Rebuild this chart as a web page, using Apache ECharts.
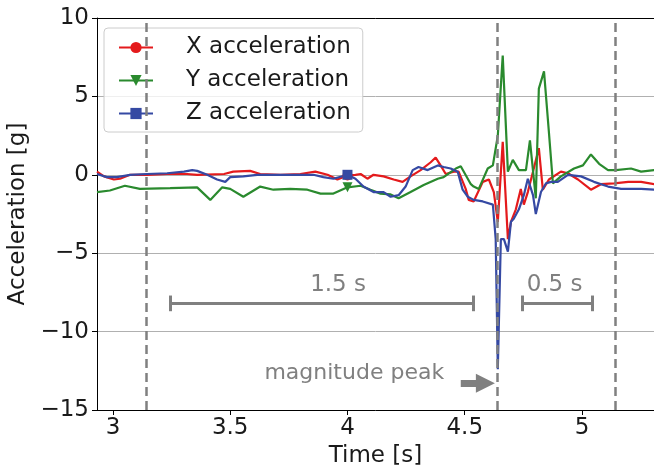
<!DOCTYPE html>
<html>
<head>
<meta charset="utf-8">
<script src="https://cdn.jsdelivr.net/npm/echarts@6/dist/echarts.min.js"></script>
<style>
  html, body { margin: 0; padding: 0; background: #fff; }
  #chart { width: 654px; height: 469px; }
</style>
</head>
<body>
<div id="chart"></div>
<script>
// X acceleration (red)
const xAccT = [2.932, 2.962, 3.004, 3.030, 3.073, 3.145, 3.231, 3.316, 3.359, 3.474, 3.513, 3.585, 3.628, 3.714, 3.799, 3.863, 3.915, 3.957, 4.0, 4.034, 4.056, 4.085, 4.111, 4.154, 4.197, 4.235, 4.269, 4.312, 4.355, 4.376, 4.397, 4.419, 4.453, 4.474, 4.504, 4.517, 4.538, 4.577, 4.603, 4.624, 4.641, 4.662, 4.684, 4.697, 4.718, 4.739, 4.752, 4.769, 4.791, 4.816, 4.833, 4.859, 4.910, 4.940, 4.983, 5.038, 5.081, 5.137, 5.197, 5.252, 5.308];
const xAccV = [0.2, -0.1, -0.3, -0.25, 0.0, 0.0, 0.05, 0.05, 0.0, 0.05, 0.2, 0.25, 0.05, 0.0, 0.05, 0.2, 0.0, -0.3, -0.05, 0.0, 0.05, -0.25, 0.0, -0.1, -0.3, -0.45, -0.1, 0.3, 0.8, 1.1, 0.6, 0.05, 0.2, 0.2, -0.9, -1.6, -1.7, -0.45, -0.3, -1.1, -3.0, 2.1, -4.1, -3.0, -2.2, -0.9, -1.9, -1.1, 0.2, 1.7, -0.95, -0.3, 0.2, 0.1, -0.3, -0.95, -0.6, -0.55, -0.45, -0.45, -0.6];

// Y acceleration (green)
const yAccT = [2.932, 2.987, 3.051, 3.115, 3.244, 3.359, 3.415, 3.466, 3.5, 3.556, 3.628, 3.684, 3.756, 3.829, 3.885, 3.94, 4.0, 4.056, 4.098, 4.141, 4.184, 4.218, 4.269, 4.325, 4.385, 4.410, 4.462, 4.483, 4.491, 4.526, 4.538, 4.560, 4.598, 4.620, 4.641, 4.662, 4.684, 4.705, 4.731, 4.761, 4.778, 4.803, 4.816, 4.838, 4.859, 4.876, 4.910, 4.966, 5.004, 5.038, 5.073, 5.111, 5.145, 5.209, 5.252, 5.308];
const yAccV = [-1.1, -1.0, -0.7, -0.9, -0.85, -0.8, -1.6, -0.8, -0.9, -1.4, -0.75, -0.95, -0.9, -0.95, -1.2, -1.2, -0.8, -0.7, -0.95, -1.2, -1.25, -1.5, -1.1, -0.65, -0.25, -0.15, 0.4, 0.55, 0.5, -0.6, -0.75, -0.9, 0.4, 0.6, 2.5, 7.6, 0.2, 0.95, 0.3, 0.3, 2.2, -1.5, 5.5, 6.6, 2.7, -0.55, -0.1, 0.4, 0.6, 1.3, 0.7, 0.3, 0.3, 0.4, 0.2, 0.3];

// Z acceleration (blue)
const zAccT = [2.932, 2.974, 3.017, 3.073, 3.145, 3.231, 3.303, 3.338, 3.359, 3.402, 3.444, 3.479, 3.5, 3.556, 3.615, 3.744, 3.855, 3.897, 3.94, 4.0, 4.034, 4.068, 4.111, 4.154, 4.184, 4.218, 4.248, 4.278, 4.303, 4.342, 4.385, 4.410, 4.440, 4.470, 4.491, 4.513, 4.538, 4.577, 4.620, 4.632, 4.641, 4.654, 4.667, 4.684, 4.697, 4.709, 4.731, 4.752, 4.769, 4.791, 4.803, 4.825, 4.846, 4.868, 4.897, 4.940, 4.996, 5.051, 5.111, 5.167, 5.252, 5.308];
const zAccV = [0.05, -0.15, -0.15, 0.0, 0.05, 0.1, 0.2, 0.3, 0.25, 0.0, -0.3, -0.45, -0.15, -0.1, 0.0, 0.0, 0.0, -0.15, -0.25, 0.0, -0.25, -0.75, -1.1, -1.1, -1.4, -1.3, -0.75, 0.3, 0.5, 0.3, 0.6, 0.5, 0.4, 0.2, -0.95, -1.4, -1.6, -1.7, -1.9, -4.1, -12.4, -4.1, -4.1, -4.9, -3.0, -2.8, -2.2, -1.3, -0.25, -1.3, -2.5, -1.1, -0.55, -0.45, -0.45, 0.0, -0.1, -0.45, -0.75, -0.9, -0.9, -0.95];

const xTicks = [3, 3.5, 4, 4.5, 5];
const markerTime = 4;

// annotations (data space)
const windowLines = [3.141, 4.641, 5.141];
const span15 = [3.244, 4.538];
const span05 = [4.744, 5.043];
const spanY = -8.2;
const capH = 0.5;
const spanLabels = [['1.5 s', 3.96, -7.0], ['0.5 s', 4.883, -7.0]];
const peakLabel = ['magnitude peak', 4.029, -12.65];
const peakArrow = [[4.483, -13.3], [4.588, -13.3]];

const FONT = 'DejaVu Sans';
const FS = 23;
const GRAY = '#808080';

function zip(t, v) {
  return t.map((x, i) => [x, v[i]]);
}

function markerSize(val) {
  return val[0] === markerTime ? 10 : 0;
}

const chart = echarts.init(document.getElementById('chart'));

const bracketData = [];
[span15, span05].forEach(s => {
  bracketData.push([{ coord: [s[0], spanY] }, { coord: [s[1], spanY] }]);
  bracketData.push([{ coord: [s[0], spanY - capH] }, { coord: [s[0], spanY + capH] }]);
  bracketData.push([{ coord: [s[1], spanY - capH] }, { coord: [s[1], spanY + capH] }]);
});

const textPoints = spanLabels.map(p => ({
  coord: [p[1], p[2]],
  label: { formatter: p[0] }
})).concat([{
  coord: [peakLabel[1], peakLabel[2]],
  label: { formatter: peakLabel[0], fontSize: 22 }
}]);

const option = {
  animation: false,
  textStyle: { fontFamily: FONT },
  grid: { left: 97, right: 0, top: 18, bottom: 59, outerBoundsMode: 'none' },
  legend: {
    data: ['X acceleration', 'Y acceleration', 'Z acceleration'],
    orient: 'vertical',
    left: 104,
    top: 28,
    padding: [8, 12, 7, 14],
    itemGap: 10,
    itemWidth: 34,
    itemHeight: 14,
    backgroundColor: 'rgba(255,255,255,0.8)',
    borderColor: '#cccccc',
    borderWidth: 1,
    borderRadius: 4,
    textStyle: { fontFamily: FONT, fontSize: FS, color: '#1a1a1a', padding: [0, 0, 0, 28] }
  },
  xAxis: [
    {
      type: 'value',
      min: 2.932,
      max: 5.307,
      name: 'Time [s]',
      nameLocation: 'middle',
      nameGap: 34,
      nameTextStyle: { fontFamily: FONT, fontSize: FS, color: '#1a1a1a' },
      axisLine: { show: true, onZero: false, lineStyle: { color: '#000', width: 1 } },
      axisTick: { show: true, length: 5, customValues: xTicks, lineStyle: { color: '#000' } },
      axisLabel: { customValues: xTicks, fontFamily: FONT, fontSize: FS, color: '#1a1a1a', margin: 7 },
      splitLine: { show: false }
    },
    {
      type: 'value',
      position: 'top',
      min: 2.932,
      max: 5.307,
      z: 10,
      axisLine: { show: true, onZero: false, lineStyle: { color: '#000', width: 1 } },
      axisTick: { show: false },
      axisLabel: { show: false },
      splitLine: { show: false }
    }
  ],
  yAxis: {
    type: 'value',
    min: -15,
    max: 10,
    interval: 5,
    name: 'Acceleration [g]',
    nameLocation: 'middle',
    nameGap: 53,
    nameTextStyle: { fontFamily: FONT, fontSize: FS, color: '#1a1a1a' },
    axisLine: { show: true, onZero: false, lineStyle: { color: '#000', width: 1 } },
    axisTick: { show: true, length: 5, lineStyle: { color: '#000' } },
    axisLabel: {
      fontFamily: FONT, fontSize: FS, color: '#1a1a1a', margin: 8,
      formatter: v => String(v).replace('-', '\u2212')
    },
    splitLine: { show: true, lineStyle: { color: '#b0b0b0', width: 1 } }
  },
  series: [
    {
      name: 'X acceleration',
      type: 'line',
      data: zip(xAccT, xAccV),
      color: '#e41a1c',
      lineStyle: { width: 2.2 },
      symbol: 'circle',
      symbolSize: markerSize,
      showSymbol: true,
      showAllSymbol: true
    },
    {
      name: 'Y acceleration',
      type: 'line',
      data: zip(yAccT, yAccV),
      color: '#2a8a2e',
      lineStyle: { width: 2.2 },
      symbol: 'triangle',
      symbolRotate: 180,
      symbolSize: markerSize,
      showSymbol: true,
      showAllSymbol: true
    },
    {
      name: 'Z acceleration',
      type: 'line',
      data: zip(zAccT, zAccV),
      color: '#3549a3',
      lineStyle: { width: 2.2 },
      symbol: 'rect',
      symbolSize: markerSize,
      showSymbol: true,
      showAllSymbol: true
    },
    {
      name: 'annotations',
      type: 'line',
      data: [],
      silent: true,
      markLine: {
        silent: true,
        symbol: 'none',
        label: { show: false },
        data: windowLines.map(t => ({
          xAxis: t,
          lineStyle: { color: GRAY, width: 2.5, type: [9, 5] }
        })).concat(bracketData.map(d => {
          d[0].lineStyle = { color: GRAY, width: 3, type: 'solid' };
          return d;
        })).concat([[
          { coord: peakArrow[0], symbol: 'none', lineStyle: { color: GRAY, width: 7, type: 'solid' } },
          { coord: peakArrow[1], symbol: 'triangle', symbolSize: [19, 19] }
        ]])
      },
      markPoint: {
        silent: true,
        symbol: 'circle',
        symbolSize: 1,
        itemStyle: { color: 'rgba(0,0,0,0)' },
        label: { show: true, position: 'inside', color: GRAY, fontFamily: FONT, fontSize: FS },
        data: textPoints
      }
    }
  ]
};

chart.setOption(option);
</script>
</body>
</html>
